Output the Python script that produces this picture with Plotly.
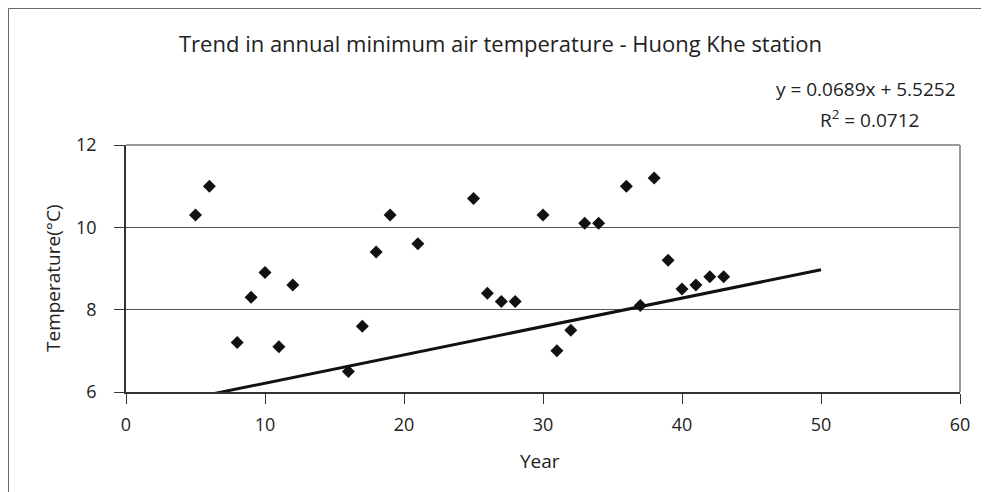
import plotly.graph_objects as go

years = [5, 6, 8, 9, 10, 11, 12, 16, 17, 18, 19, 21, 25, 26, 27, 28, 30, 31, 32, 33, 34, 36, 37, 38, 39, 40, 41, 42, 43]
temps = [10.3, 11.0, 7.2, 8.3, 8.9, 7.1, 8.6, 6.5, 7.6, 9.4, 10.3, 9.6, 10.7, 8.4, 8.2, 8.2, 10.3, 7.0, 7.5, 10.1, 10.1, 11.0, 8.1, 11.2, 9.2, 8.5, 8.6, 8.8, 8.8]

slope = 0.0689
intercept = 5.5252
trend_x = [0, 50]
trend_y = [slope * x + intercept for x in trend_x]

x_ticks = [0, 10, 20, 30, 40, 50, 60]
y_ticks = [6, 8, 10, 12]

FONT = "Open Sans"
TXT = "#222222"

# plot area (page pixels): x 126..960, y 145..392
PL, PR, PT, PB = 126, 960, 145, 392
W, H = PR - PL, PB - PT


def px(x):
    return (x - PL) / W


def py(y):
    return 1 - (y - PT) / H


fig = go.Figure()
fig.add_trace(go.Scatter(x=trend_x, y=trend_y, mode="lines",
                         line=dict(color="#111111", width=3), showlegend=False))
fig.add_trace(go.Scatter(x=years, y=temps, mode="markers",
                         marker=dict(symbol="diamond", size=10, color="#111111"),
                         showlegend=False, cliponaxis=False))

fig.update_layout(
    width=981, height=484,
    margin=dict(l=118, r=29, t=137, b=100),
    paper_bgcolor="white", plot_bgcolor="white",
    font=dict(family=FONT, color=TXT, size=18),
    xaxis=dict(range=[0, 60], tickvals=x_ticks, showgrid=False, zeroline=False,
               showline=True, linecolor="#333333", linewidth=1.5,
               ticks="outside", ticklen=10, tickcolor="#333333",
               ticklabelstandoff=6, tickfont=dict(size=18)),
    yaxis=dict(range=[6, 12], tickvals=y_ticks, showgrid=True, gridcolor="#555555",
               gridwidth=1, zeroline=False, showline=True, linecolor="#333333",
               linewidth=1.5, ticks="outside", ticklen=10, tickcolor="#333333",
               ticklabelstandoff=14, tickfont=dict(size=18)),
    shapes=[
        dict(type="line", xref="paper", yref="paper", x0=0, x1=1, y0=1, y1=1,
             line=dict(color="#9a9a9a", width=2)),
        dict(type="line", xref="paper", yref="paper", x0=1, x1=1, y0=0, y1=1,
             line=dict(color="#9a9a9a", width=2)),
        dict(type="rect", xref="paper", yref="paper",
             x0=px(8.5), x1=1.2, y0=-1.0, y1=py(8.5),
             line=dict(color="#666666", width=1), layer="below"),
    ],
    annotations=[
        dict(text="Trend in annual minimum air temperature - Huong Khe station",
             xref="paper", yref="paper", x=px(500), y=py(43),
             xanchor="center", yanchor="middle", showarrow=False,
             font=dict(size=22, family=FONT, color=TXT)),
        dict(text="y = 0.0689x + 5.5252",
             xref="paper", yref="paper", x=px(866), y=py(89),
             xanchor="center", yanchor="middle", showarrow=False,
             font=dict(size=19, family=FONT, color=TXT)),
        dict(text="R<sup>2</sup> = 0.0712",
             xref="paper", yref="paper", x=px(869), y=py(119),
             xanchor="center", yanchor="middle", showarrow=False,
             font=dict(size=19, family=FONT, color=TXT)),
        dict(text="Year",
             xref="paper", yref="paper", x=px(540), y=py(461),
             xanchor="center", yanchor="middle", showarrow=False,
             font=dict(size=19, family=FONT, color=TXT)),
        dict(text="Temperature(°C)", textangle=-90,
             xref="paper", yref="paper", x=px(53), y=py(278),
             xanchor="center", yanchor="middle", showarrow=False,
             font=dict(size=19, family=FONT, color=TXT)),
    ],
)

fig.write_html("out.html")
